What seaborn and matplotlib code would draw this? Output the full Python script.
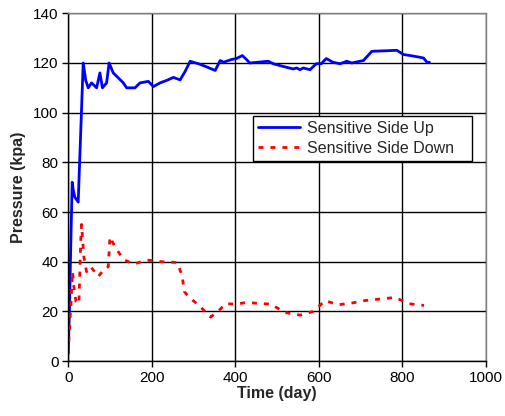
import matplotlib
matplotlib.use("Agg")
import matplotlib.pyplot as plt
import seaborn as sns
import pandas as pd

blue_days = [0, 3, 6, 9.6, 12, 16, 24, 36, 42, 48, 56, 62, 68, 76, 82, 92, 98, 108,
             120, 132, 140, 160, 172, 192, 204, 220, 236, 252, 268, 280, 292, 312, 332,
             352, 364, 372, 391, 403, 417, 427, 435, 479, 491, 515, 539, 547, 555, 563,
             579, 594, 606, 618, 634, 651, 667, 679, 707, 727, 787, 803, 819, 839, 851,
             859, 865]
blue_kpa = [3, 20, 45, 72, 69, 66, 64, 120, 113, 110, 112, 111, 110, 116, 110, 112, 120,
            116, 114, 112, 110, 110, 112, 112.6, 110.5, 112, 113, 114.2, 113.2, 116.6,
            120.7, 119.7, 118.4, 117, 121, 120.3, 121.4, 121.8, 123, 121.4, 120, 120.7,
            119.7, 118.6, 117.6, 118, 117.3, 118, 117.3, 119.7, 119.7, 121.8, 120.3,
            119.7, 120.7, 120, 121, 124.7, 125.1, 123.4, 123, 122.4, 122, 120.3, 120.3]

red_days = [0, 2.4, 4, 6.4, 8, 10.4, 13.6, 18.4, 25.6, 28, 30, 32, 35, 37.5, 44, 54, 72,
            86, 96, 100, 112, 132, 156, 188, 224, 261, 273, 278, 290, 314, 341, 363, 377,
            403, 426, 451, 486, 518, 555, 587, 615, 647, 677, 712, 747, 783, 816, 852]
red_kpa = [3, 10, 16, 22, 28, 36, 30, 24, 23, 36, 48, 55, 48, 42, 36, 38, 34, 37, 38, 50,
           46, 41, 39, 40.7, 40, 39.7, 34.3, 28, 25.6, 22.3, 17.7, 20.7, 23.1, 22.9, 23.6,
           23.3, 22.9, 19.6, 18.5, 20, 24.3, 22.7, 23.3, 24.4, 25, 25.6, 23.1, 22.4]

labels = ["Sensitive Side Up", "Sensitive Side Down"]
x_ticks = [0, 200, 400, 600, 800, 1000]
y_ticks = [0, 20, 40, 60, 80, 100, 120, 140]

sns.set_theme(style="white")
plt.rcParams["font.family"] = ["Liberation Sans", "DejaVu Sans"]

fig = plt.figure(figsize=(5.05, 4.16), dpi=100)
ax = fig.add_axes([0.135, 0.132, 0.827, 0.836])

df_up = pd.DataFrame({"day": blue_days, "kpa": blue_kpa})
df_dn = pd.DataFrame({"day": red_days, "kpa": red_kpa})

sns.lineplot(data=df_up, x="day", y="kpa", ax=ax, color="#0000ff", lw=2.0,
             estimator=None, sort=False, label=labels[0])
sns.lineplot(data=df_dn, x="day", y="kpa", ax=ax, color="#ff0000", lw=2.0,
             estimator=None, sort=False, label=labels[1], dashes=False)
ax.lines[1].set_dashes([1.8, 2.5])

ax.set_xlim(0, 1000)
ax.set_ylim(0, 140)
ax.set_xticks(x_ticks)
ax.set_yticks(y_ticks)
ax.grid(True, color="black", lw=1.0)
ax.set_axisbelow(True)
for s in ax.spines.values():
    s.set_color("#808080")
    s.set_linewidth(1.0)
ax.spines["left"].set_color("black")
ax.spines["bottom"].set_color("black")
ax.tick_params(axis="both", direction="out", length=4, width=1, color="black",
               labelsize=11, labelcolor="black", pad=3, left=True, bottom=True)
ax.set_xlabel("Time (day)", fontsize=11.5, fontweight="bold", labelpad=1)
ax.set_ylabel("Pressure (kpa)", fontsize=11.5, fontweight="bold", labelpad=5)

leg = ax.legend(loc="upper left", bbox_to_anchor=(0.443, 0.604, 0.523, 0.1),
                mode="expand", borderaxespad=0, frameon=True,
                fancybox=False, edgecolor="black", framealpha=1, fontsize=11.5,
                handlelength=2.6, borderpad=0.3, labelspacing=0.3, handletextpad=0.5)
leg.get_frame().set_linewidth(1.0)

fig.savefig("out.png", dpi=100, facecolor="white")
